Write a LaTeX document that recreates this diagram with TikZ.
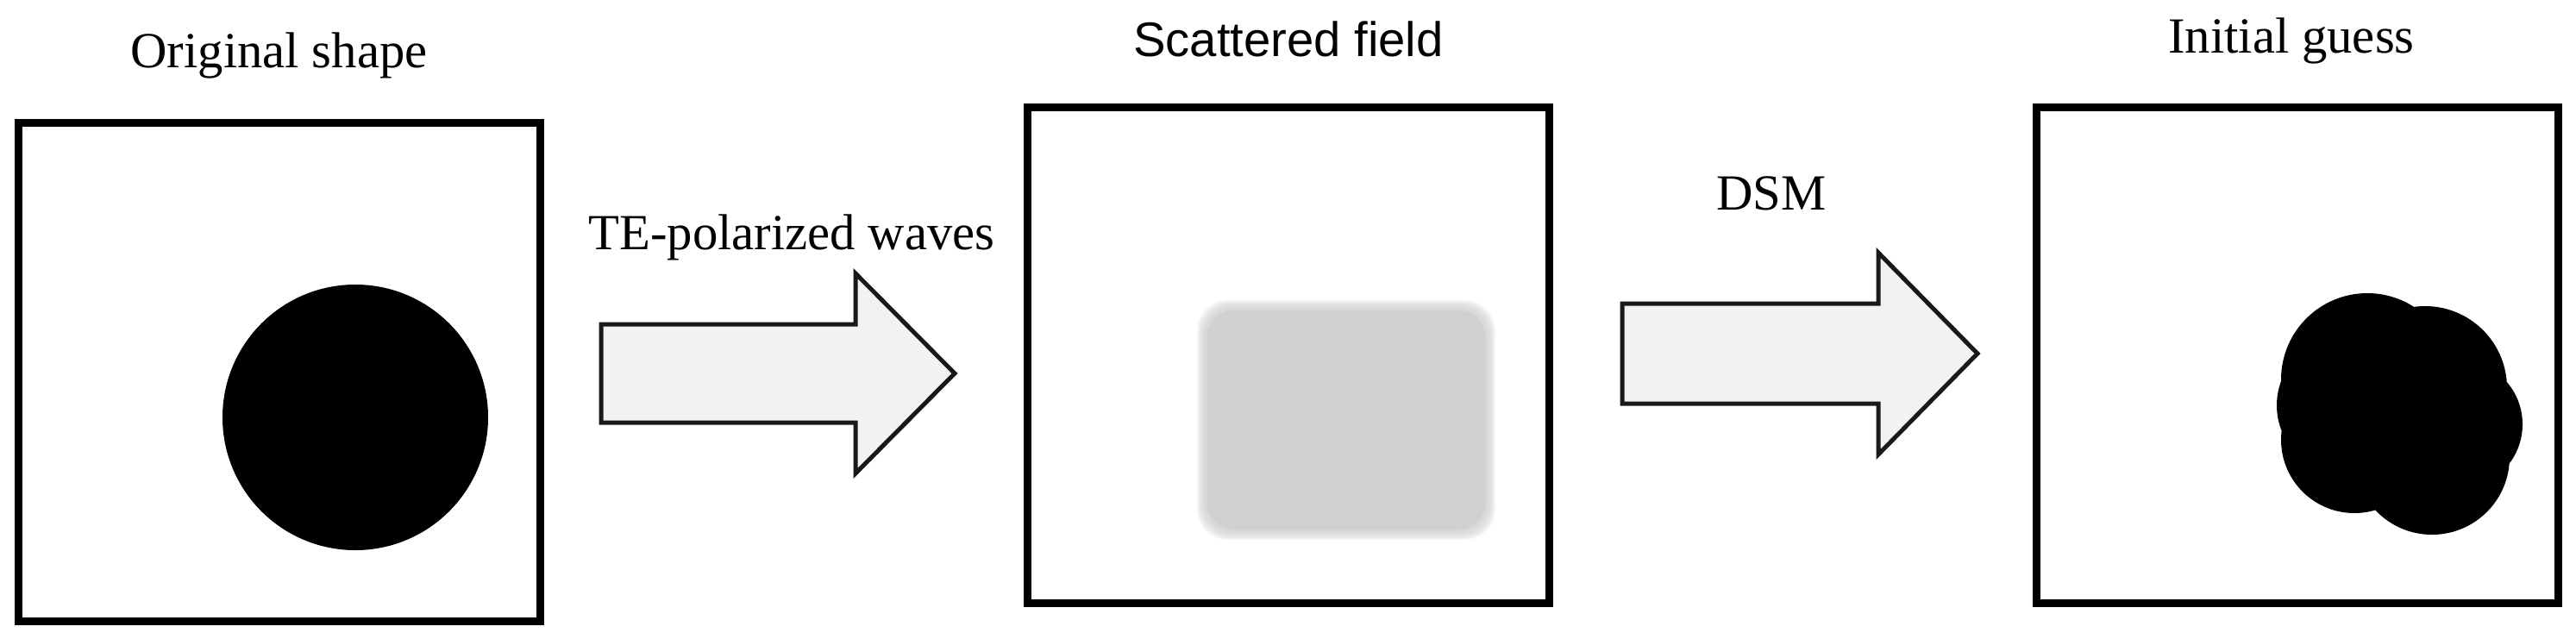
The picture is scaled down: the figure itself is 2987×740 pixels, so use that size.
\documentclass[tikz,border=0pt]{standalone}
\usepackage{fontspec}
\setmainfont{Liberation Serif}
\setsansfont{Liberation Sans}
\usetikzlibrary{positioning}
\definecolor{fieldgray}{HTML}{D0D0D0}
\definecolor{arrowfill}{HTML}{F2F2F2}
\tikzset{
  box_n/.style = {draw=black, line width=0.9mm, minimum width=60.5mm,
    minimum height=57.5mm, inner sep=0pt, outer sep=0pt},
  ttl_n/.style = {anchor=base, inner sep=0pt,
    font=\fontsize{16.7}{20}\selectfont},
  blk_arr/.style = {draw=black!90, line width=0.5mm, fill=arrowfill,
    line join=miter}}
\begin{document}
\begin{tikzpicture}[x=0.1mm, y=0.1mm]
\useasboundingbox (0,0) rectangle (2987,740);

% the three panels
\node [box_n, minimum height=57.8mm] (orig) at (323.5,309) {};
\node [box_n] (scat) at (1494,328.5) {};
\node [box_n] (guess) at (2664,328.5) {};

\node [ttl_n] (orig_t) at ([yshift=6.4mm]orig.north) {Original shape};
\node [ttl_n, font=\sffamily\fontsize{16}{20}\selectfont] (scat_t)
  at ([yshift=5.9mm]scat.north) {Scattered field};
\node [ttl_n] (guess_t) at ([xshift=-0.7mm, yshift=6.3mm]guess.north)
  {Initial guess};

% original disc
\fill [black] (412,256) circle [radius=15.4mm];

% blurred field
\foreach \k in {-5,...,6}
  \fill [fieldgray, opacity=0.15, rounded corners=3.5mm]
    (1394-\k,120-\k) rectangle (1728+\k,386+\k);
\fill [fieldgray, rounded corners=3mm] (1400,126) rectangle (1722,380);

% lumpy reconstruction
\fill [black] (2745,300) circle [radius=10mm]
  (2812,290) circle [radius=9.5mm]
  (2850,248) circle [radius=7.5mm]
  (2820,210) circle [radius=9mm]
  (2730,230) circle [radius=8.5mm]
  (2720,270) circle [radius=8mm];

% block arrows
\coordinate (te_tail) at (697,307);
\coordinate (te_tip) at (1107,307);
\coordinate (dsm_tail) at (1881,330);
\coordinate (dsm_tip) at (2293,330);

\draw [blk_arr] (te_tail) ++(0,57) -- ++(295,0) -- ++(0,59) -- (te_tip)
  -- ++(-115,-116) -- ++(0,59) -- ++(-295,0) -- cycle;
\draw [blk_arr] (dsm_tail) ++(0,58) -- ++(297,0) -- ++(0,59) -- (dsm_tip)
  -- ++(-115,-117) -- ++(0,59) -- ++(-297,0) -- cycle;

\node [ttl_n] (te_l) at (918,451) {TE-polarized waves};
\node [ttl_n] (dsm_l) at (2054,497) {DSM};
\end{tikzpicture}
\end{document}
